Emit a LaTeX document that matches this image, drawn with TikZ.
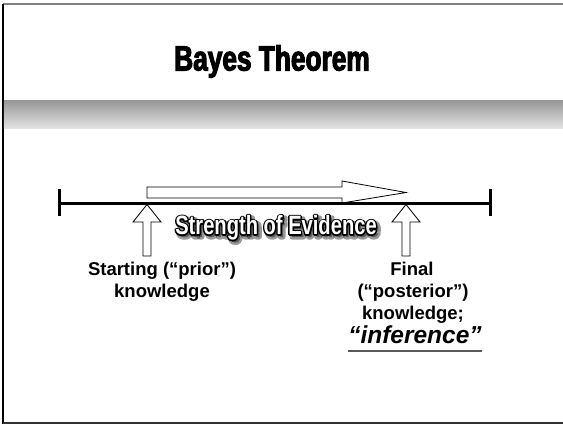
\documentclass[tikz,border=0pt]{standalone}
\usepackage{fontspec}
\setmainfont{Liberation Sans}
\newfontfamily\impactfont[FakeStretch=0.75,FakeBold=3]{Liberation Sans Bold}
\newfontfamily\soefont[FakeStretch=0.76]{Liberation Sans Bold}
\newcommand{\strokedtext}[3]{{\color{#1}\special{pdf:literal direct 2 Tr #2 w 1 j}#3\special{pdf:literal direct 0 Tr}}}
\begin{document}
\begin{tikzpicture}[x=1pt,y=-1pt,
  hollow/.style={draw=black,line width=0.8pt,fill=white,line join=miter},
  soestyle/.style={inner sep=0pt,anchor=base,font=\fontsize{26.5}{30}\selectfont\soefont},
  lbl/.style={inner sep=0pt,anchor=base,font=\fontsize{18.5}{22}\selectfont\bfseries}]
\useasboundingbox (0,0) rectangle (563,424);
\fill[white] (0,0) rectangle (563,424);
% frame
\draw[line width=1.5pt,gray] (3,4) -- (563,4);
\draw[line width=1.5pt,black] (3,4) -- (3,424);
\draw[line width=1.5pt,black!80] (3,423) -- (563,423);
% band
\shade[top color={rgb,255:red,150;green,150;blue,150},bottom color={rgb,255:red,226;green,226;blue,226}] (3.75,100) rectangle (563,128);
% title
\node[inner sep=0pt,anchor=base] (title) at (272,70.5) {\fontsize{35}{40}\selectfont\impactfont Bayes Theorem};
% right hollow arrow
\draw[hollow] (147,187) -- (342,187) -- (342,181) -- (406,192.5) -- (342,203) -- (342,198) -- (147,198) -- cycle;
% up arrows
\draw[hollow] (147,204.5) -- (161,222) -- (151,222) -- (151,256) -- (143,256) -- (143,222) -- (133,222) -- cycle;
\draw[hollow] (406,204.5) -- (420,222) -- (410,222) -- (410,256) -- (402,256) -- (402,222) -- (392,222) -- cycle;
% axis
\coordinate (L) at (59,203);
\coordinate (R) at (490,203);
\draw[line width=3pt] (L) -- (R);
\draw[line width=3pt] ([yshift=-13pt]L) -- ([yshift=14pt]L);
\draw[line width=3pt] ([yshift=-13pt]R) -- ([yshift=14pt]R);
% strength of evidence: shadow, outline, white fill
\node[soestyle,opacity=0.4] (shadow) at (278.5,237) {\strokedtext{black}{5}{Strength of Evidence}};
\node[soestyle] (soeout) at (276,234.5) {\strokedtext{black}{2.8}{Strength of Evidence}};
\node[soestyle] (soe) at (276,234.5) {\color{white}Strength of Evidence};
% labels
\node[lbl] (s1) at (162,275.5) {Starting (“prior”)};
\node[lbl] (s2) at (162,297.5) {knowledge};
\node[lbl] (f1) at (412,275.5) {Final};
\node[lbl] (f2) at (413,297.5) {(“posterior”)};
\node[lbl] (f3) at (413,319.5) {knowledge;};
\node[inner sep=0pt,anchor=base,font=\fontsize{24.5}{28}\selectfont\bfseries\itshape] (inf) at (415,343) {“inference”};
\draw[line width=2pt,black!65] ([yshift=-8pt]inf.base west) -- ([yshift=-8pt]inf.base east);
\end{tikzpicture}
\end{document}
